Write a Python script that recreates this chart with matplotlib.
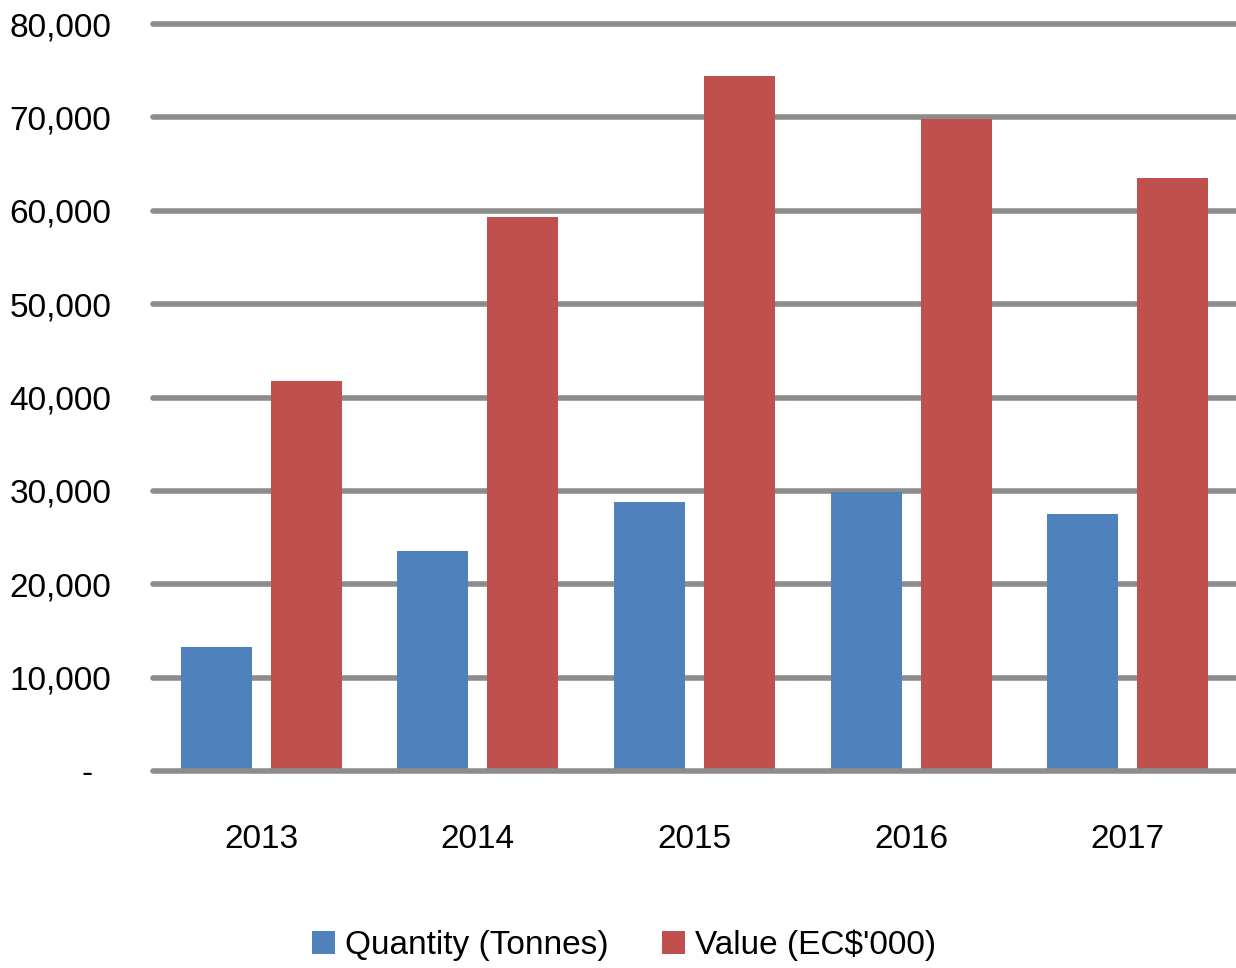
import matplotlib
matplotlib.use('Agg')
import matplotlib.pyplot as plt
import numpy as np

# Data
years = ['2013', '2014', '2015', '2016', '2017']
quantity = [13300, 23600, 28800, 29900, 27500]
value = [41800, 59300, 74400, 69800, 63500]
y_ticks = [0, 10000, 20000, 30000, 40000, 50000, 60000, 70000, 80000]

blue_color = '#4F81BD'
red_color = '#C0504D'
grid_color = '#8C8C8C'

plt.rcParams['font.family'] = ['Liberation Sans', 'DejaVu Sans']

fig = plt.figure(figsize=(12.36, 9.68), dpi=100)
ax = fig.add_axes([0.1238, 0.2035, 0.8762, 0.7717])

xs = np.arange(len(years))
width = 0.328

# Horizontal gridlines, drawn behind the bars (zero line on top)
for yv in y_ticks:
    ax.axhline(yv, color=grid_color, linewidth=4, solid_capstyle='round',
               zorder=3 if yv == 0 else 1, clip_on=False)

ax.bar(xs - 0.208, quantity, width=width, color=blue_color,
       label='Quantity (Tonnes)', zorder=2)
ax.bar(xs + 0.208, value, width=width, color=red_color,
       label="Value (EC$'000)", zorder=2)

ax.set_xlim(-0.5, len(years) - 0.5)
ax.set_ylim(0, 80000)

ax.set_yticks(y_ticks)
ax.set_yticklabels(['-  '] + ['{:,}'.format(v) for v in y_ticks[1:]],
                   fontsize=24)
ax.set_xticks(xs)
ax.set_xticklabels(years, fontsize=24)
ax.tick_params(axis='both', length=0)
ax.tick_params(axis='y', pad=30)
ax.tick_params(axis='x', pad=38)

for side in ['top', 'right', 'left', 'bottom']:
    ax.spines[side].set_visible(False)

ax.legend(loc='lower center', bbox_to_anchor=(0.435, -0.295), ncol=2,
          frameon=False, fontsize=24, handlelength=0.7, handleheight=0.7,
          handletextpad=0.3, columnspacing=1.6)

fig.savefig('out.png', dpi=100)
